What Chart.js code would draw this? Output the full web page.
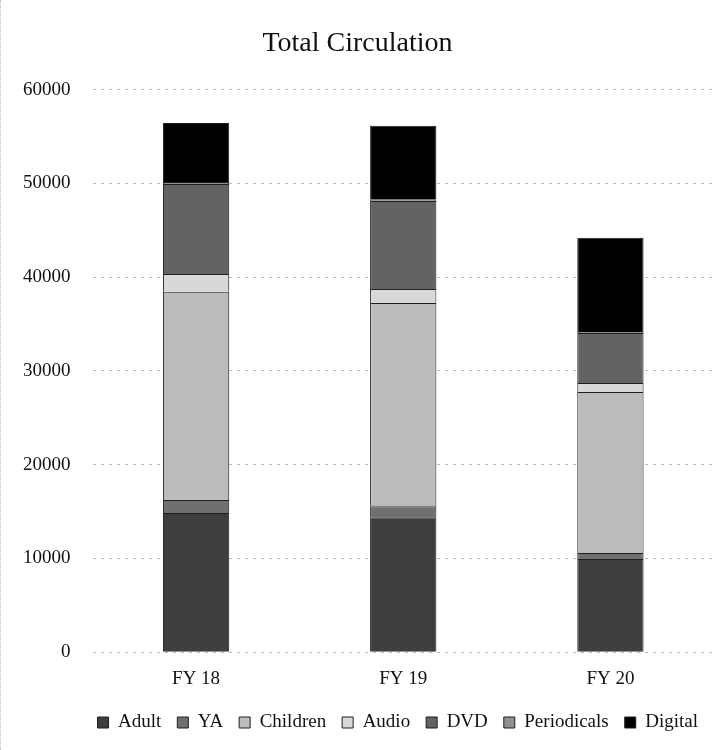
<!DOCTYPE html>
<html>
<head>
<meta charset="utf-8">
<script src="https://cdn.jsdelivr.net/npm/chart.js@4/dist/chart.umd.min.js"></script>
<style>
  html, body { margin: 0; padding: 0; background: #fff; }
  #wrap { width: 728px; height: 750px; position: relative; border-left: 1px dotted #bbb; box-sizing: border-box; }
</style>
</head>
<body>
<div id="wrap"><canvas id="chart"></canvas></div>
<script>
const years = ["FY 18", "FY 19", "FY 20"];
const adult = [14850, 14400, 9930];
const ya = [1390, 1170, 640];
const children = [22200, 21660, 17180];
const audio = [1900, 1500, 960];
const dvd = [9600, 9390, 5340];
const periodicals = [200, 180, 100];
const digital = [6300, 7850, 10040];
const yTicks = [0, 10000, 20000, 30000, 40000, 50000, 60000];

const serif = "'Liberation Serif', 'DejaVu Serif', serif";

// one entry per circulation type, bottom to top
const series = [
  { label: "Adult", data: adult, color: "#3e3e3e" },
  { label: "YA", data: ya, color: "#707070" },
  { label: "Children", data: children, color: "#bcbcbc" },
  { label: "Audio", data: audio, color: "#d8d8d8" },
  { label: "DVD", data: dvd, color: "#636363" },
  { label: "Periodicals", data: periodicals, color: "#909090" },
  { label: "Digital", data: digital, color: "#000000" },
];

new Chart(document.getElementById("chart"), {
  type: "bar",
  data: {
    labels: years,
    datasets: series.map((s) => ({
      label: s.label,
      data: s.data,
      backgroundColor: s.color,
      borderColor: "#1e1e1e",
      borderWidth: 1,
      categoryPercentage: 0.8,
      barPercentage: 0.4,
    })),
  },
  options: {
    responsive: true,
    maintainAspectRatio: false,
    animation: false,
    layout: { padding: { left: 0, right: 14, top: 0, bottom: 8 } },
    plugins: {
      title: {
        display: true,
        text: "Total Circulation",
        color: "#111",
        font: { family: serif, size: 28, weight: "normal" },
        padding: { top: 27, bottom: 29 },
      },
      legend: {
        position: "bottom",
        align: "end",
        labels: {
          color: "#111",
          font: { family: serif, size: 19 },
          boxWidth: 11,
          boxHeight: 11,
          padding: 16,
        },
      },
      tooltip: { enabled: false },
    },
    scales: {
      x: {
        stacked: true,
        grid: { display: false },
        border: { display: false },
        ticks: { color: "#111", font: { family: serif, size: 19 }, padding: 7 },
      },
      y: {
        stacked: true,
        min: 0,
        max: 60000,
        afterBuildTicks: (axis) => {
          axis.ticks = yTicks.map((v) => ({ value: v }));
        },
        grid: { color: "#b8b8b8", drawTicks: false },
        border: { display: false, dash: [3, 5] },
        ticks: {
          color: "#111",
          font: { family: serif, size: 19 },
          padding: 22,
          callback: (v) => String(v),
        },
      },
    },
  },
});
</script>
</body>
</html>
